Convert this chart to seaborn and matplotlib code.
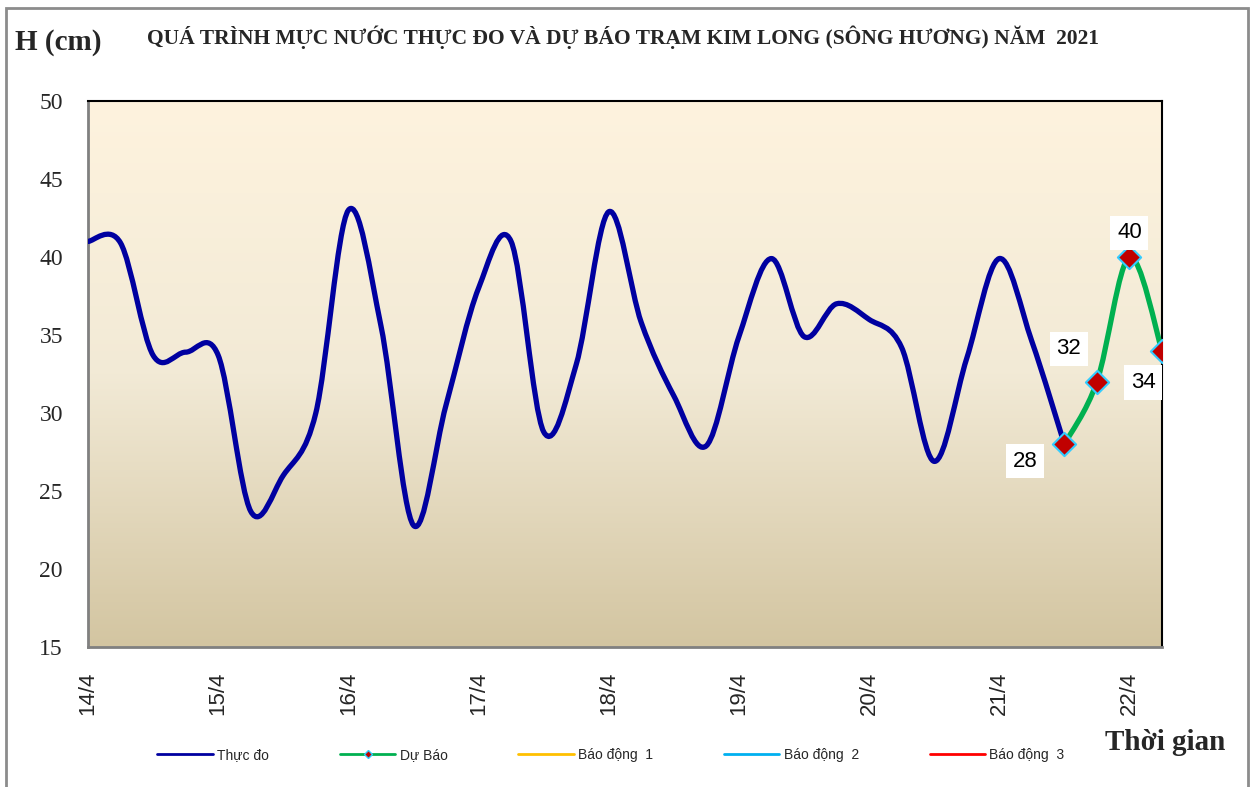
import numpy as np
import seaborn as sns
import matplotlib.pyplot as plt
from matplotlib.path import Path
from matplotlib.patches import PathPatch, Rectangle
from matplotlib.lines import Line2D

# Water level (cm), 6-hourly steps from 14/4 00h
observed = [41.0, 40.9, 33.7, 33.9, 33.7, 23.7, 26.0, 30.0, 43.0, 35.6,
            22.8, 30.5, 38.0, 41.0, 28.8, 33.1, 42.9, 35.8, 31.1, 27.9,
            34.9, 39.9, 34.9, 37.0, 36.0, 34.2, 26.9, 33.5, 39.9, 34.6, 28.0]
forecast = [28, 32, 40, 34]
day_labels = ["14/4", "15/4", "16/4", "17/4", "18/4", "19/4", "20/4", "21/4", "22/4"]
legend_labels = ["Thực đo", "Dự Báo", "Báo động  1", "Báo động  2", "Báo động  3"]

x_obs = np.arange(len(observed))
x_fc = np.arange(len(observed) - 1, len(observed) - 1 + len(forecast))

BLUE = "#0000A0"
GREEN = "#00B050"


def smooth_path(xs, ys):
    # Excel-like smoothed line: cubic bezier through every point
    pts = np.column_stack([xs, ys]).astype(float)
    ext = np.vstack([pts[0], pts, pts[-1]])
    verts = [pts[0]]
    codes = [Path.MOVETO]
    for i in range(len(pts) - 1):
        p0, p1, p2, p3 = ext[i], ext[i + 1], ext[i + 2], ext[i + 3]
        verts += [p1 + (p2 - p0) / 6, p2 - (p3 - p1) / 6, p2]
        codes += [Path.CURVE4] * 3
    return Path(verts, codes)


sns.set_style("white")
plt.rcParams["font.family"] = ["Liberation Sans", "DejaVu Sans"]

fig = plt.figure(figsize=(12.53, 7.87), dpi=100)
ax = fig.add_axes([88 / 1253, 1 - 647 / 787, (1162 - 88) / 1253, (647 - 101) / 787])

# background gradient
grad = np.linspace(0, 1, 256).reshape(-1, 1)
cmap = sns.blend_palette(["#FEF3DE", "#F2EAD6", "#D3C5A1"], as_cmap=True)
ax.imshow(grad, cmap=cmap, aspect="auto", extent=[0, 33, 15, 50], origin="upper", zorder=0)

ax.add_patch(PathPatch(smooth_path(x_obs, observed), fill=False, edgecolor=BLUE,
                       lw=3.8, capstyle="round", joinstyle="round", zorder=3))
ax.add_patch(PathPatch(smooth_path(x_fc, forecast), fill=False, edgecolor=GREEN,
                       lw=3.8, capstyle="round", joinstyle="round", zorder=3))
sns.scatterplot(x=x_fc, y=forecast, marker="D", s=140, color="#C00000",
                edgecolor="#33CCFF", linewidth=1.5, zorder=4, ax=ax, legend=False)

offsets = [(-39, -17), (-28, 33), (0, 24), (-19, -32)]
for xv, yv, (dx, dy) in zip(x_fc, forecast, offsets):
    ax.annotate(f"{yv}", (xv, yv), xytext=(dx, dy), textcoords="offset pixels",
                ha="center", va="center", fontsize=16, color="black", zorder=5,
                bbox=dict(boxstyle="square,pad=0.3", fc="white", ec="none"),
                annotation_clip=False)

ax.set_xlim(0, 33)
ax.set_ylim(15, 50)
ax.set_yticks(range(15, 51, 5))
ax.set_xticks(range(0, 33, 4))
ax.set_xticklabels(day_labels, rotation=90, fontsize=16)
ax.set_xticks(range(0, 34), minor=True)
for lab in ax.get_yticklabels():
    lab.set_fontfamily("Liberation Serif")
    lab.set_fontsize(17)
ax.tick_params(axis="y", direction="out", length=6, width=1.5, color="#808080", pad=12)
ax.tick_params(axis="x", which="both", direction="in", length=4, width=1.2,
               color="#808080", pad=18)
ax.tick_params(axis="x", which="minor", labelbottom=False)

for side in ["left", "bottom"]:
    ax.spines[side].set_color("#808080")
    ax.spines[side].set_linewidth(2)
for side in ["top", "right"]:
    ax.spines[side].set_color("black")
    ax.spines[side].set_linewidth(1.5)

fig.text(0.4976, 1 - 37 / 787, "QUÁ TRÌNH MỰC NƯỚC THỰC ĐO VÀ DỰ BÁO TRẠM KIM LONG (SÔNG HƯƠNG) NĂM  2021",
         ha="center", va="center", fontsize=15.5, fontweight="bold", family="Liberation Serif")
fig.text(15 / 1253, 1 - 43 / 787, "H (cm)", ha="left", va="center", fontsize=21,
         fontweight="bold", family="Liberation Serif")
fig.text(1105 / 1253, 1 - 742 / 787, "Thời gian", ha="left", va="center", fontsize=21,
         fontweight="bold", family="Liberation Serif")

handles = [
    Line2D([], [], color=BLUE, lw=2),
    Line2D([], [], color=GREEN, lw=2, marker="D", markersize=4,
           markerfacecolor="#C00000", markeredgecolor="#33CCFF"),
    Line2D([], [], color="#FFC000", lw=2),
    Line2D([], [], color="#00B0F0", lw=2),
    Line2D([], [], color="#FF0000", lw=2),
]
fig.legend(handles, legend_labels, loc="center", bbox_to_anchor=(611 / 1253, 1 - 755 / 787),
           ncol=5, frameon=False, fontsize=10, handlelength=4, handletextpad=0.3,
           columnspacing=5.1)

fig.patches.append(Rectangle((6 / 1253, -0.05), (1248 - 6) / 1253, 1.05 - 8 / 787,
                             transform=fig.transFigure, fill=False, ec="#8C8C8C", lw=2))

fig.savefig("out.png", dpi=100)
